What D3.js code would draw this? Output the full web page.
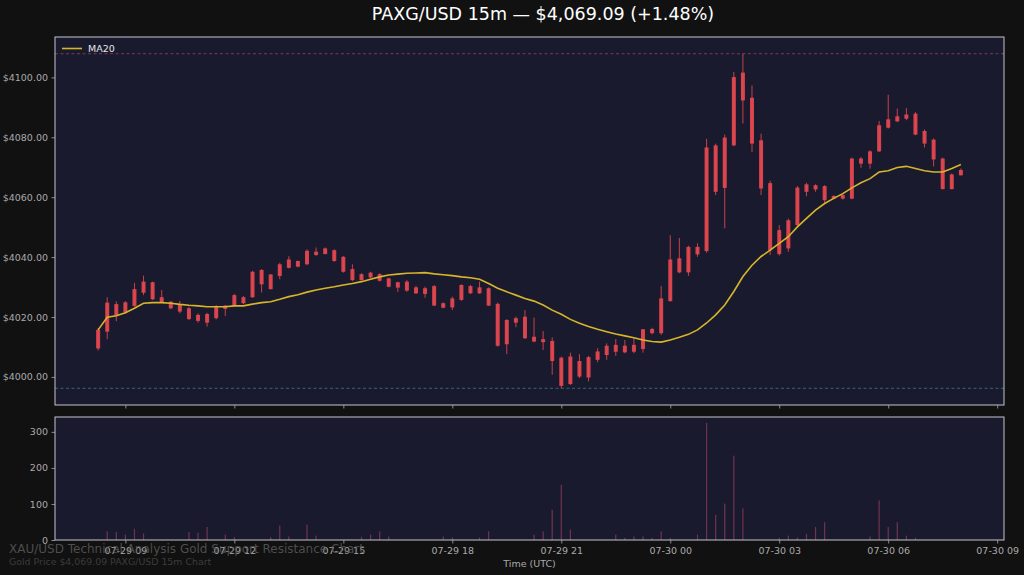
<!DOCTYPE html>
<html><head><meta charset="utf-8">
<script src="https://cdn.jsdelivr.net/npm/d3@7"></script>
<style>
body{margin:0;background:#111111;}
svg{display:block;font-family:"DejaVu Sans",sans-serif;}
</style></head>
<body><svg id="chart" width="1024" height="575"></svg>
<script>
const times = [
"07-29 08:15","07-29 08:30","07-29 08:45","07-29 09:00","07-29 09:15","07-29 09:30","07-29 09:45","07-29 10:00",
"07-29 10:15","07-29 10:30","07-29 10:45","07-29 11:00","07-29 11:15","07-29 11:30","07-29 11:45","07-29 12:00",
"07-29 12:15","07-29 12:30","07-29 12:45","07-29 13:00","07-29 13:15","07-29 13:30","07-29 13:45","07-29 14:00",
"07-29 14:15","07-29 14:30","07-29 14:45","07-29 15:00","07-29 15:15","07-29 15:30","07-29 15:45","07-29 16:00",
"07-29 16:15","07-29 16:30","07-29 16:45","07-29 17:00","07-29 17:15","07-29 17:30","07-29 17:45","07-29 18:00",
"07-29 18:15","07-29 18:30","07-29 18:45","07-29 19:00","07-29 19:15","07-29 19:30","07-29 19:45","07-29 20:00",
"07-29 20:15","07-29 20:30","07-29 20:45","07-29 21:00","07-29 21:15","07-29 21:30","07-29 21:45","07-29 22:00",
"07-29 22:15","07-29 22:30","07-29 22:45","07-29 23:00","07-29 23:15","07-29 23:30","07-29 23:45",
"07-30 00:00","07-30 00:15","07-30 00:30","07-30 00:45","07-30 01:00","07-30 01:15","07-30 01:30","07-30 01:45",
"07-30 02:00","07-30 02:15","07-30 02:30","07-30 02:45","07-30 03:00","07-30 03:15","07-30 03:30","07-30 03:45",
"07-30 04:00","07-30 04:15","07-30 04:30","07-30 04:45","07-30 05:00","07-30 05:15","07-30 05:30","07-30 05:45",
"07-30 06:00","07-30 06:15","07-30 06:30","07-30 06:45","07-30 07:00","07-30 07:15","07-30 07:30","07-30 07:45",
"07-30 08:00"];

const open = [
4009.5,4015.1,4024.3,4021.5,4023.7,4028.1,4031.6,4026.6,4025.1,4021.8,4022.9,4018.7,4021.0,4019.6,4023.8,4023.7,
4026.6,4026.6,4035.7,4029.3,4033.7,4036.4,4038.7,4037.6,4041.8,4041.0,4042.3,4040.1,4036.0,4032.3,4034.8,4032.1,
4032.9,4029.8,4031.8,4027.9,4029.6,4030.3,4023.1,4023.2,4025.7,4030.3,4027.9,4029.6,4024.4,4010.9,4019.6,4020.1,
4013.4,4011.6,4012.0,4006.4,3997.6,4005.3,3999.8,4005.7,4007.3,4010.7,4008.2,4010.7,4009.3,4016.0,4014.6,
4025.3,4039.6,4034.9,4043.4,4042.0,4077.3,4063.1,4077.3,4101.6,4093.2,4079.0,4064.7,4041.0,4042.9,4050.7,4064.3,
4062.6,4063.7,4059.5,4060.7,4059.5,4072.9,4071.2,4075.3,4083.2,4085.3,4087.6,4087.9,4082.1,4079.2,4072.9,4062.7,
4067.3];
const high = [
4016.3,4026.6,4025.2,4025.3,4031.4,4033.8,4031.8,4029.0,4025.3,4025.4,4023.4,4021.2,4021.4,4024.0,4024.0,4027.7,
4027.0,4035.4,4036.0,4034.3,4038.1,4040.3,4038.8,4042.6,4043.2,4043.2,4042.6,4040.3,4037.6,4034.6,4035.1,4034.6,
4033.1,4031.8,4032.3,4030.4,4030.1,4030.7,4024.9,4026.8,4030.9,4030.7,4031.8,4029.9,4024.8,4019.3,4020.1,4022.3,
4019.8,4015.3,4013.2,4006.8,4008.1,4007.6,4007.0,4009.6,4011.2,4012.6,4012.3,4012.9,4016.0,4016.4,4030.3,
4047.3,4046.4,4043.8,4044.6,4079.5,4077.9,4080.9,4101.8,4107.9,4097.3,4081.2,4065.5,4050.7,4052.9,4063.7,4064.8,
4064.3,4064.0,4060.7,4061.0,4073.2,4073.4,4075.7,4085.4,4094.2,4089.6,4089.8,4088.4,4082.6,4079.6,4073.2,4067.9,
4069.6];
const low = [
4008.8,4012.6,4018.6,4021.0,4023.4,4027.3,4025.7,4024.6,4022.6,4021.2,4019.0,4018.1,4016.8,4019.2,4020.3,4023.4,
4024.3,4026.4,4028.2,4029.2,4032.6,4036.2,4036.6,4037.3,4040.4,4041.0,4038.4,4034.8,4032.0,4032.1,4032.9,4031.8,
4029.9,4028.4,4028.4,4027.7,4026.4,4023.7,4022.9,4022.3,4025.4,4027.7,4027.7,4023.7,4010.1,4007.6,4016.6,4012.7,
4011.6,4009.0,4000.7,3996.2,3997.3,3999.6,3998.5,4004.9,4005.7,4007.0,4007.9,4007.9,4008.1,4014.2,4014.0,
4025.1,4034.6,4033.7,4040.1,4041.5,4060.7,4049.6,4077.0,4084.6,4075.1,4060.7,4040.7,4040.5,4041.8,4050.1,4060.3,
4061.8,4058.1,4059.3,4059.2,4059.3,4069.8,4069.5,4075.1,4082.9,4085.1,4085.7,4080.7,4076.6,4070.3,4062.6,4062.6,
4067.3];
const close = [
4015.7,4024.8,4020.5,4024.9,4029.3,4031.8,4025.9,4024.8,4022.9,4024.3,4019.3,4020.7,4018.1,4023.4,4022.7,4027.3,
4024.6,4035.1,4030.9,4034.2,4037.6,4039.2,4036.8,4042.1,4040.7,4042.9,4038.7,4035.1,4032.3,4034.3,4033.2,4034.3,
4030.1,4031.6,4028.8,4029.9,4027.7,4023.8,4024.6,4026.2,4030.7,4027.9,4029.9,4023.8,4010.4,4019.0,4018.1,4012.9,
4011.8,4012.6,4005.3,3997.0,4006.8,4000.1,4006.6,4008.5,4010.4,4008.4,4010.4,4008.4,4015.9,4014.6,4026.2,
4039.2,4034.9,4043.4,4040.9,4076.6,4061.8,4079.9,4100.1,4092.3,4077.9,4062.9,4042.3,4049.0,4052.3,4063.2,4061.8,
4064.0,4059.0,4060.4,4059.5,4072.9,4071.2,4075.3,4084.0,4086.0,4087.0,4086.2,4080.9,4077.9,4072.6,4062.7,4067.6,
4069.09];
const ma20 = [
4015.7,4019.9,4020.4,4021.4,4022.9,4024.6,4024.8,4024.8,4024.6,4024.2,4023.9,4023.7,4023.4,4023.4,4023.4,4023.7,
4023.7,4024.3,4024.8,4025.1,4025.9,4026.8,4027.4,4028.3,4029.0,4029.6,4030.1,4030.7,4031.2,4031.8,4032.6,4033.4,
4034.0,4034.3,4034.6,4034.7,4034.8,4034.4,4034.1,4033.8,4033.4,4033.1,4032.6,4031.2,4029.6,4028.4,4027.3,4026.2,
4025.3,4024.0,4022.3,4020.9,4019.2,4017.9,4016.8,4015.9,4015.1,4014.3,4013.7,4013.1,4012.3,4011.8,4011.6,
4012.3,4013.2,4014.2,4015.7,4018.0,4020.7,4024.0,4028.5,4033.5,4037.3,4040.2,4042.3,4044.6,4046.8,4050.1,4052.9,
4055.7,4057.9,4059.6,4061.2,4063.1,4064.8,4066.2,4068.4,4068.8,4069.9,4070.3,4069.6,4068.8,4068.4,4068.4,4069.6,
4070.9];
const volume = [
0,24,22,15,31,18,0,0,0,0,22,20,36,0,15,8,
0,0,0,8,40,10,0,43,12,0,0,0,0,9,15,24,
10,0,0,0,0,0,10,7,0,0,7,24,0,0,0,0,
15,24,84,153,29,0,0,0,0,15,6,10,10,6,24,
6,0,0,15,325,70,101,234,88,0,0,0,6,12,7,17,
36,49,0,0,0,0,10,110,36,49,12,6,0,0,0,0,
0];

const priceTicks = [4000, 4020, 4040, 4060, 4080, 4100];
const volumeTicks = [0, 100, 200, 300];
const titleText = "PAXG/USD 15m \u2014 $4,069.09 (+1.48%)";
const legendLabel = "MA20";
const xLabel = "Time (UTC)";
const watermark1 = "XAU/USD Technical Analysis Gold Support Resistance Chart";
const watermark2 = "Gold Price $4,069.09 PAXG/USD 15m Chart";

// ---------- layout / style ----------
const W = 1024, H = 575;
const L = 55, R = 1004;
const mainTop = 37, mainBot = 405;
const volTop = 417, volBot = 540;
const panelBg = "#1a1a2e";
const frameColor = "#c4c4d0";
const tickColor = "#aaaaaa";
const candleColor = "#e5484f";
const maColor = "#d6b52a";

const parse = d3.utcParse("%Y-%m-%d %H:%M");
const dates = times.map(t => parse("2025-" + t));

const svg = d3.select("#chart");
svg.append("rect").attr("width", W).attr("height", H).attr("fill", "#111111");

const t0 = dates[0], t1 = dates[dates.length - 1];
const span = t1 - t0;
const x = d3.scaleUtc()
  .domain([new Date(+t0 - span * 0.05), new Date(+t1 + span * 0.05)])
  .range([L, R]);

const lo = d3.min(low), hi = d3.max(high);
const ypad = (hi - lo) * 0.05;
const y = d3.scaleLinear().domain([lo - ypad, hi + ypad]).range([mainBot, mainTop]);
const yv = d3.scaleLinear().domain([0, d3.max(volume) * 1.05]).range([volBot, volTop]);

const defs = svg.append("defs");
defs.append("clipPath").attr("id", "clipMain").append("rect")
  .attr("x", L).attr("y", mainTop).attr("width", R - L).attr("height", mainBot - mainTop);
defs.append("clipPath").attr("id", "clipVol").append("rect")
  .attr("x", L).attr("y", volTop).attr("width", R - L).attr("height", volBot - volTop);

// panel backgrounds
svg.append("rect").attr("x", L).attr("y", mainTop).attr("width", R - L).attr("height", mainBot - mainTop).attr("fill", panelBg);
svg.append("rect").attr("x", L).attr("y", volTop).attr("width", R - L).attr("height", volBot - volTop).attr("fill", panelBg);

const gMain = svg.append("g").attr("clip-path", "url(#clipMain)");

// resistance / support
gMain.append("line").attr("x1", L).attr("x2", R)
  .attr("y1", y(hi)).attr("y2", y(hi))
  .attr("stroke", "#b0506e").attr("stroke-opacity", 0.7).attr("stroke-width", 0.9)
  .attr("stroke-dasharray", "3,2.5");
gMain.append("line").attr("x1", L).attr("x2", R)
  .attr("y1", y(lo)).attr("y2", y(lo))
  .attr("stroke", "#3f8a9c").attr("stroke-opacity", 0.75).attr("stroke-width", 0.9)
  .attr("stroke-dasharray", "3,2.5");

// candles
const idx = d3.range(dates.length);
const bodyW = 4;
const cg = gMain.append("g");
cg.selectAll("line.wick").data(idx).join("line").attr("class", "wick")
  .attr("x1", i => x(dates[i])).attr("x2", i => x(dates[i]))
  .attr("y1", i => y(high[i])).attr("y2", i => y(low[i]))
  .attr("stroke", candleColor).attr("stroke-width", 1).attr("stroke-opacity", 0.85);
cg.selectAll("rect.body").data(idx).join("rect").attr("class", "body")
  .attr("x", i => x(dates[i]) - bodyW / 2)
  .attr("width", bodyW)
  .attr("y", i => y(Math.max(open[i], close[i])))
  .attr("height", i => Math.max(1, Math.abs(y(open[i]) - y(close[i]))))
  .attr("fill", candleColor).attr("fill-opacity", 0.92);

// MA line
gMain.append("path").datum(idx)
  .attr("d", d3.line().x(i => x(dates[i])).y(i => y(ma20[i])))
  .attr("fill", "none").attr("stroke", maColor).attr("stroke-width", 1.6);

// volume
const gVol = svg.append("g").attr("clip-path", "url(#clipVol)");
gVol.selectAll("rect").data(idx.filter(i => volume[i] > 0)).join("rect")
  .attr("x", i => x(dates[i]) - 0.6).attr("width", 1.2)
  .attr("y", i => yv(volume[i])).attr("height", i => volBot - yv(volume[i]))
  .attr("fill", "#b8486a").attr("fill-opacity", 0.55);

// frames
[[mainTop, mainBot], [volTop, volBot]].forEach(([t, b]) => {
  svg.append("rect").attr("x", L).attr("y", t).attr("width", R - L).attr("height", b - t)
    .attr("fill", "none").attr("stroke", frameColor).attr("stroke-width", 1);
});

function styleAxis(g) {
  g.select(".domain").remove();
  g.selectAll(".tick line").attr("stroke", tickColor).attr("stroke-width", 0.8);
  g.selectAll(".tick text").attr("fill", tickColor).attr("font-size", "9.5px")
    .attr("font-family", "DejaVu Sans, sans-serif");
}

// axes
svg.append("g").attr("transform", `translate(${L},0)`)
  .call(d3.axisLeft(y).tickValues(priceTicks).tickFormat(d => "$" + d.toFixed(2)).tickSize(3.5).tickPadding(3.5))
  .call(styleAxis);
svg.append("g").attr("transform", `translate(${L},0)`)
  .call(d3.axisLeft(yv).tickValues(volumeTicks).tickFormat(d3.format("d")).tickSize(3.5).tickPadding(3.5))
  .call(styleAxis);
svg.append("g").attr("transform", `translate(0,${mainBot})`)
  .call(d3.axisBottom(x).ticks(d3.utcHour.every(3)).tickFormat("").tickSize(3.5))
  .call(styleAxis);
svg.append("g").attr("transform", `translate(0,${volBot})`)
  .call(d3.axisBottom(x).ticks(d3.utcHour.every(3)).tickFormat(d3.utcFormat("%m-%d %H")).tickSize(3.5).tickPadding(3.5))
  .call(styleAxis);

// x label
svg.append("text").attr("x", (L + R) / 2).attr("y", 567).attr("text-anchor", "middle")
  .attr("fill", tickColor).attr("font-size", "9.5px").text(xLabel);

// title
svg.append("text").attr("x", 543).attr("y", 20).attr("text-anchor", "middle")
  .attr("fill", "#ffffff").attr("font-size", "17.5px").text(titleText);

// legend
svg.append("line").attr("x1", 62).attr("x2", 82).attr("y1", 48.5).attr("y2", 48.5)
  .attr("stroke", maColor).attr("stroke-width", 1.6);
svg.append("text").attr("x", 88).attr("y", 52).attr("fill", "#e6e6e6").attr("font-size", "9.5px").text(legendLabel);

// watermark
svg.append("text").attr("x", 9).attr("y", 553).attr("fill", "#5a5a5a").attr("fill-opacity", 0.85)
  .attr("font-size", "12px").text(watermark1);
svg.append("text").attr("x", 9).attr("y", 565).attr("fill", "#3c3c3c")
  .attr("font-size", "9.4px").text(watermark2);
</script>
</body></html>
